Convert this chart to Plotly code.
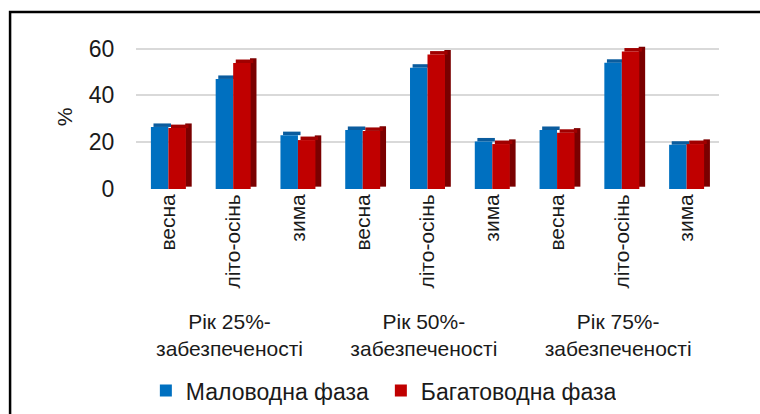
import plotly.graph_objects as go

groups = ["Рік 25%-<br>забезпеченості", "Рік 50%-<br>забезпеченості", "Рік 75%-<br>забезпеченості"]
seasons = ["весна", "літо-осінь", "зима"]
low_water = [26.5, 47.0, 23.0, 25.2, 51.8, 20.3, 25.2, 53.9, 18.9]   # Маловодна фаза
high_water = [26.0, 53.8, 20.9, 24.8, 57.4, 19.2, 24.0, 58.7, 19.2]  # Багатоводна фаза
series_names = ["Маловодна фаза", "Багатоводна фаза"]
y_ticks = [0, 20, 40, 60]

x_outer = [g for g in groups for _ in seasons]
x_inner = [s for _ in groups for s in seasons]
x = [x_outer, x_inner]

BLUE = "#0070C0"
RED = "#C00000"
DARK_RED = "#7A0000"
BLUE_TOP = "#0A5C9E"
RED_TOP = "#A00000"

W = 0.27
fig = go.Figure()
# side face of red bar (3D effect)
fig.add_trace(go.Bar(x=x, y=[v + 1.0 for v in high_water], base=[1.0] * len(high_water),
                     offset=W - 0.01, width=0.1, marker_color=DARK_RED,
                     marker_line_width=0, showlegend=False, hoverinfo="skip"))
# top faces
fig.add_trace(go.Bar(x=x, y=[1.5] * len(low_water), base=low_water,
                     offset=-W + 0.04, width=W, marker_color=BLUE_TOP,
                     marker_line_width=0, showlegend=False, hoverinfo="skip"))
fig.add_trace(go.Bar(x=x, y=[1.5] * len(high_water), base=high_water,
                     offset=0.04, width=W, marker_color=RED_TOP,
                     marker_line_width=0, showlegend=False, hoverinfo="skip"))
# front faces
fig.add_trace(go.Bar(x=x, y=low_water, name=series_names[0], offset=-W, width=W,
                     marker_color=BLUE, marker_line_width=0))
fig.add_trace(go.Bar(x=x, y=high_water, name=series_names[1], offset=0, width=W,
                     marker_color=RED, marker_line_width=0))

FONT = "Liberation Sans, Arial, sans-serif"
L, R, T, B = 136, 41, 45, 225
fig.update_layout(
    width=760, height=414,
    barmode="overlay",
    paper_bgcolor="white", plot_bgcolor="white",
    margin=dict(l=L, r=R, t=T, b=B, autoexpand=False),
    font=dict(family=FONT, size=21, color="#1a1a1a"),
    showlegend=True,
    legend=dict(orientation="h", x=0.42, xanchor="center", y=-1.4, yanchor="middle",
                font=dict(size=23), itemwidth=30, traceorder="normal",
                entrywidth=190, entrywidthmode="pixels"),
    xaxis=dict(type="multicategory", tickangle=-90, showgrid=False, showline=False,
               showdividers=False, ticks="", tickfont=dict(size=21), automargin=False),
    yaxis=dict(range=[0, 61.5], tickvals=y_ticks, showgrid=True, gridcolor="#D9D9D9",
               gridwidth=1.5, zeroline=False, showline=False, ticks="outside",
               ticklen=16, tickcolor="rgba(0,0,0,0)", tickfont=dict(size=23),
               automargin=False,
               title=dict(text="%", font=dict(size=21), standoff=10)),
    shapes=[dict(type="rect", xref="paper", yref="paper",
                 x0=-0.216, x1=1.6, y0=-2.5, y1=1.229,
                 line=dict(color="black", width=2.5), fillcolor="rgba(0,0,0,0)",
                 layer="below")],
)

fig.write_html("out.html", config={"displayModeBar": False},
               post_script="document.body.style.margin='0';document.body.style.overflow='hidden';")
